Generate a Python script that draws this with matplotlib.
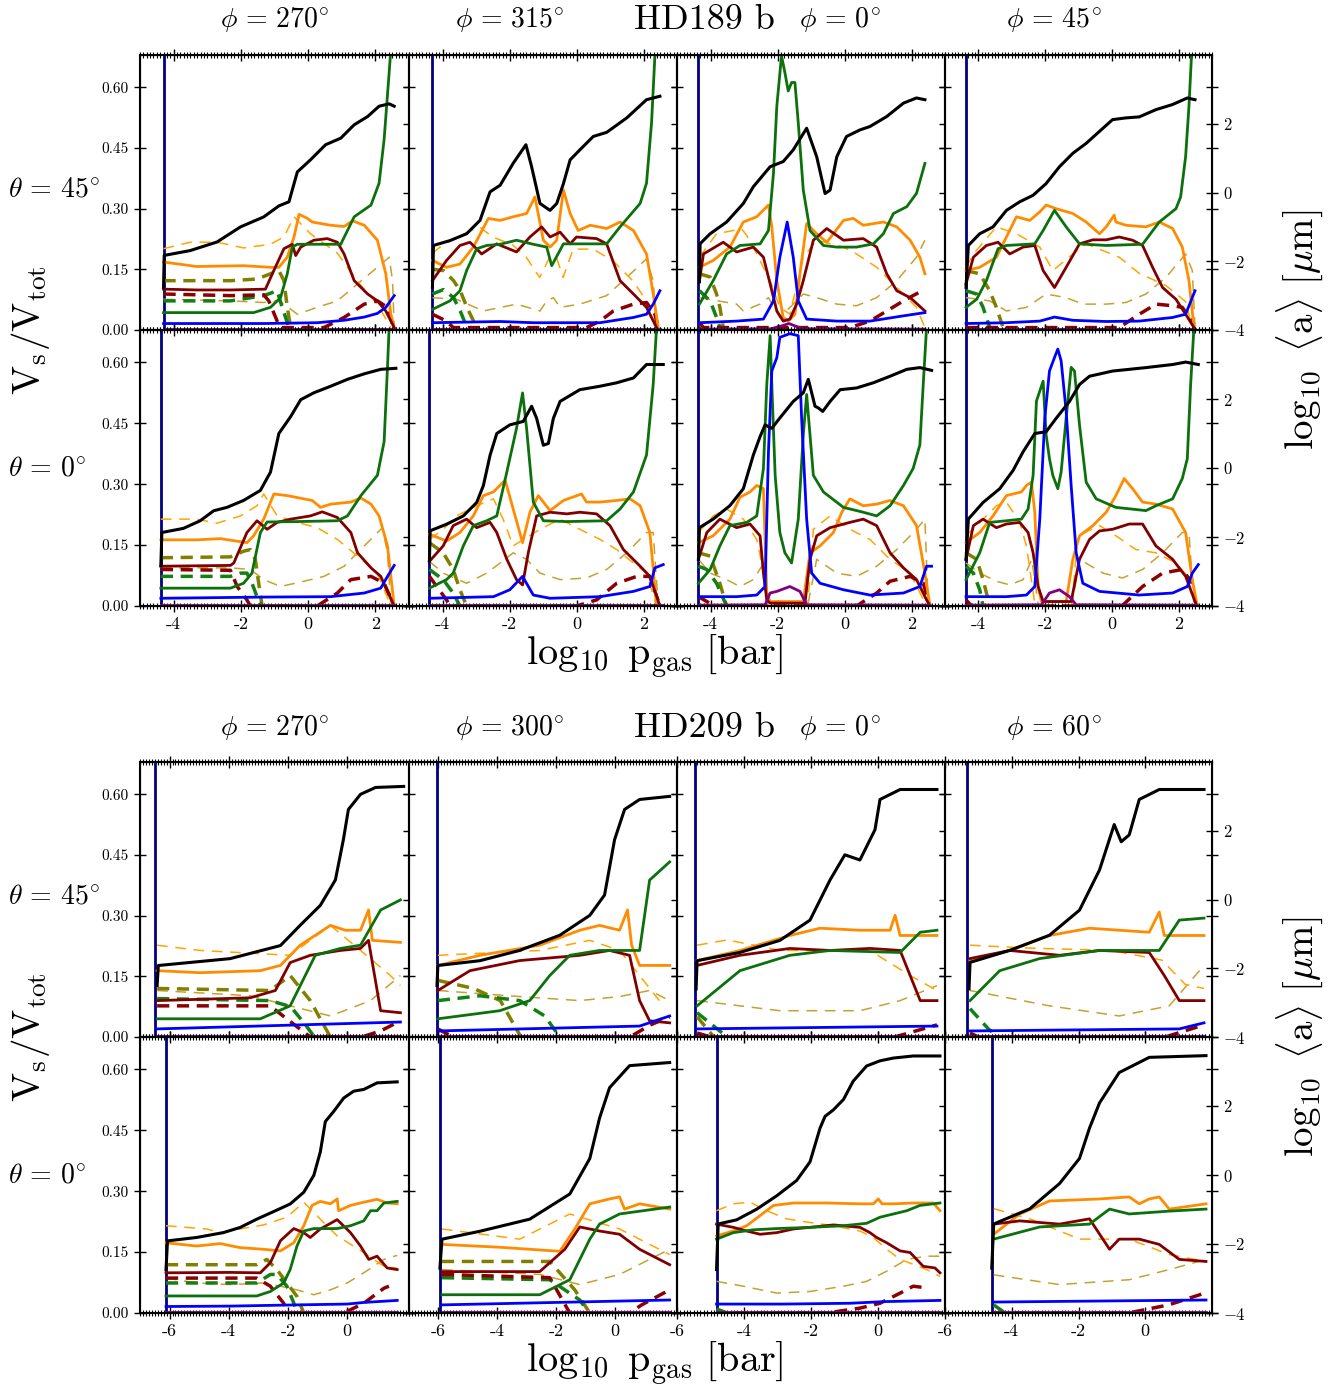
import matplotlib
matplotlib.use('Agg')
import matplotlib.pyplot as plt
from matplotlib.ticker import MultipleLocator

plt.rcParams['font.family'] = 'cmr10'
plt.rcParams['mathtext.fontset'] = 'cm'
plt.rcParams['axes.unicode_minus'] = False

# ---------------- HD189 b, theta = 45 ----------------
A1 = dict(navy=-4.30,
    black=[(-4.30,-2.76),(-4.28,-1.83),(-3.51,-1.69),(-2.71,-1.44),(-2.01,-1.00),(-1.32,-0.71),(-0.87,-0.39),(-0.57,-0.27),(-0.32,0.60),(0.07,0.95),(0.52,1.39),(0.97,1.58),(1.37,1.97),(1.77,2.21),(2.11,2.51),(2.41,2.58),(2.56,2.51)],
    orange=[(-4.30,0.168),(-3.31,0.157),(-1.92,0.159),(-1.12,0.155),(-0.87,0.155),(-0.62,0.180),(-0.42,0.230),(-0.27,0.286),(-0.02,0.276),(0.12,0.267),(0.67,0.259),(1.07,0.256),(1.32,0.270),(1.67,0.259),(2.06,0.222),(2.31,0.139),(2.46,0.039),(2.56,0.006)],
    darkred=[(-4.30,0.101),(-3.31,0.099),(-2.31,0.099),(-1.27,0.101),(-1.02,0.147),(-0.72,0.201),(-0.47,0.212),(-0.37,0.184),(-0.22,0.205),(0.17,0.222),(0.57,0.226),(0.87,0.217),(1.07,0.188),(1.37,0.122),(1.77,0.089),(2.06,0.072),(2.31,0.047),(2.56,0.006)],
    green=[(-4.30,0.043),(-2.81,0.043),(-1.62,0.043),(-1.12,0.056),(-0.82,0.080),(-0.62,0.139),(-0.47,0.205),(-0.32,0.212),(0.97,0.212),(1.37,0.280),(1.87,0.309),(2.11,0.363),(2.26,0.471),(2.41,0.637),(2.51,0.75)],
    odash=[(-4.30,0.201),(-3.51,0.217),(-2.71,0.217),(-1.92,0.203),(-1.12,0.212),(-0.72,0.230),(-0.42,0.280),(0.07,0.238),(0.87,0.19),(1.47,0.12),(2.06,0.064),(2.46,0.006)],
    tan=[(-4.30,0.076),(-2.31,0.072),(-1.32,0.068),(-0.92,0.072),(-0.72,0.064),(-0.32,0.039),(0.27,0.056),(0.87,0.072),(1.47,0.114),(2.06,0.155),(2.41,0.180),(2.51,0.122),(2.56,0.006)],
    olive=[(-4.30,0.122),(-2.31,0.122),(-1.52,0.126),(-1.12,0.139),(-0.87,0.147),(-0.72,0.122),(-0.62,0.056),(-0.52,0.006)],
    gdash=[(-4.30,0.072),(-2.31,0.072),(-1.32,0.085),(-0.92,0.097),(-0.77,0.056),(-0.57,0.006)],
    drdash=[(-4.30,0.089),(-2.31,0.085),(-1.32,0.087),(-1.17,0.072),(-0.92,0.022),(-0.82,0.006),(0.47,0.006),(1.07,0.031),(1.67,0.064),(2.06,0.072),(2.36,0.056),(2.51,0.014)],
    blue=[(-4.30,0.016),(-1.32,0.016),(0.27,0.018),(1.07,0.024),(1.67,0.032),(2.06,0.041),(2.31,0.056),(2.56,0.085)],
    purple=[(-4.30,0.003),(2.56,0.003)])

A2 = dict(navy=-4.30,
    black=[(-4.30,-2.76),(-4.27,-1.54),(-3.78,-1.40),(-3.28,-1.20),(-2.88,-0.81),(-2.58,0.02),(-2.28,0.21),(-1.89,0.85),(-1.51,1.39),(-1.34,0.75),(-1.09,-0.32),(-0.79,-0.52),(-0.59,-0.32),(-0.39,0.26),(-0.19,0.95),(0.10,1.24),(0.50,1.63),(0.90,1.75),(1.50,2.17),(2.09,2.70),(2.49,2.80)],
    orange=[(-4.30,0.172),(-3.88,0.155),(-3.48,0.163),(-3.08,0.205),(-2.63,0.276),(-2.28,0.271),(-1.89,0.280),(-1.49,0.288),(-1.24,0.329),(-0.99,0.222),(-0.79,0.205),(-0.59,0.222),(-0.39,0.346),(-0.19,0.288),(0.05,0.246),(0.41,0.259),(0.90,0.251),(1.30,0.267),(1.70,0.246),(2.09,0.188),(2.29,0.089),(2.44,0.006)],
    darkred=[(-4.30,0.122),(-3.88,0.172),(-3.48,0.209),(-3.18,0.217),(-2.83,0.188),(-2.38,0.213),(-1.79,0.193),(-1.39,0.230),(-1.04,0.255),(-0.79,0.230),(-0.49,0.242),(-0.19,0.213),(0.00,0.230),(0.60,0.226),(0.90,0.213),(1.30,0.122),(1.70,0.089),(2.09,0.056),(2.39,0.006)],
    green=[(-4.30,0.051),(-3.78,0.072),(-3.48,0.097),(-3.28,0.147),(-2.98,0.201),(-2.68,0.209),(-2.28,0.212),(-1.79,0.222),(-1.29,0.212),(-0.89,0.205),(-0.74,0.159),(-0.39,0.213),(0.10,0.213),(0.90,0.213),(1.30,0.255),(1.90,0.313),(2.09,0.363),(2.24,0.512),(2.34,0.678),(2.38,0.75)],
    odash=[(-4.30,0.19),(-4.0,0.21),(-3.3,0.24),(-2.9,0.255),(-2.5,0.23),(-1.9,0.21),(-1.5,0.18),(-1.1,0.13),(-0.8,0.18),(-0.6,0.18),(-0.4,0.13),(-0.1,0.2),(0.5,0.2),(1.1,0.17),(1.7,0.12),(2.1,0.07),(2.4,0.0)],
    tan=[(-4.30,0.080),(-3.58,0.076),(-2.78,0.047),(-1.79,0.064),(-1.09,0.047),(-0.89,0.072),(-0.69,0.080),(-0.49,0.056),(0.10,0.064),(0.90,0.085),(1.50,0.130),(2.09,0.176),(2.29,0.122),(2.39,0.006)],
    olive=[(-4.30,0.150),(-3.97,0.147),(-3.67,0.122),(-3.47,0.097),(-3.27,0.056),(-2.98,0.006)],
    gdash=[(-4.30,0.089),(-3.97,0.10),(-3.67,0.08),(-3.47,0.047),(-3.27,0.006)],
    drdash=[(-4.30,0.039),(-3.88,0.022),(-3.68,0.006),(0.30,0.006),(0.70,0.022),(1.10,0.047),(1.70,0.064),(2.09,0.068),(2.34,0.039),(2.44,0.006)],
    blue=[(-4.30,0.018),(-2.28,0.021),(-1.29,0.018),(0.70,0.018),(1.70,0.031),(2.09,0.039),(2.29,0.064),(2.49,0.097)],
    purple=[(-4.30,0.003),(2.49,0.003)])

A3 = dict(navy=-4.36,
    black=[(-4.33,-2.6),(-4.31,-1.49),(-4.01,-1.20),(-3.52,-0.86),(-3.02,-0.32),(-2.72,0.17),(-2.22,0.75),(-1.83,0.90),(-1.53,1.24),(-1.13,1.87),(-0.83,1.04),(-0.58,-0.03),(-0.43,0.07),(-0.23,1.04),(0.06,1.63),(0.46,1.82),(0.76,1.92),(1.26,2.21),(1.76,2.60),(2.15,2.75),(2.40,2.70)],
    orange=[(-4.33,0.155),(-3.92,0.172),(-3.42,0.205),(-3.02,0.267),(-2.62,0.280),(-2.27,0.309),(-2.17,0.255),(-2.02,0.122),(-1.83,0.031),(-1.68,0.022),(-1.48,0.039),(-1.33,0.139),(-1.13,0.263),(-0.83,0.238),(-0.53,0.217),(-0.33,0.238),(-0.03,0.271),(0.26,0.276),(0.56,0.259),(1.16,0.267),(1.56,0.255),(1.96,0.222),(2.25,0.180),(2.40,0.139)],
    darkred=[(-4.33,0.122),(-4.21,0.188),(-3.62,0.217),(-3.22,0.193),(-2.72,0.205),(-2.42,0.180),(-2.22,0.114),(-2.02,0.047),(-1.83,0.022),(-1.63,0.027),(-1.43,0.064),(-1.23,0.122),(-0.93,0.222),(-0.53,0.251),(-0.03,0.222),(0.56,0.226),(0.96,0.205),(1.26,0.139),(1.56,0.097),(1.96,0.080),(2.40,0.047)],
    green=[(-4.33,0.064),(-3.92,0.122),(-3.52,0.188),(-3.12,0.209),(-2.52,0.213),(-2.27,0.246),(-2.12,0.388),(-2.02,0.554),(-1.88,0.678),(-1.78,0.637),(-1.68,0.591),(-1.58,0.612),(-1.48,0.612),(-1.38,0.512),(-1.23,0.346),(-1.03,0.246),(-0.63,0.209),(-0.23,0.205),(0.36,0.205),(0.86,0.213),(1.16,0.238),(1.46,0.288),(1.86,0.305),(2.15,0.338),(2.40,0.412)],
    odash=[(-4.33,0.18),(-3.82,0.238),(-3.07,0.25),(-2.92,0.234),(-2.62,0.188),(-2.22,0.122),(-1.93,0.056),(-1.63,0.039),(-1.23,0.18),(-0.83,0.222),(-0.03,0.205),(0.36,0.188),(0.96,0.155),(1.56,0.105),(2.15,0.056),(2.40,0.006)],
    tan=[(-4.33,0.080),(-3.22,0.064),(-3.02,0.047),(-2.52,0.064),(-2.27,0.080),(-1.93,0.031),(-1.23,0.089),(-0.83,0.080),(-0.23,0.064),(0.36,0.060),(0.96,0.080),(1.56,0.122),(2.15,0.180),(2.40,0.222)],
    olive=[(-4.33,0.139),(-4.01,0.131),(-3.82,0.089),(-3.72,0.056),(-3.62,0.006)],
    gdash=[(-4.33,0.097),(-4.01,0.072),(-3.82,0.031),(-3.72,0.006)],
    drdash=[(-4.33,0.018),(-4.21,0.006),(0.16,0.006),(0.76,0.022),(1.26,0.047),(1.76,0.072),(2.40,0.101)],
    blue=[(-4.33,0.018),(-3.22,0.022),(-2.42,0.027),(-2.12,0.072),(-1.93,0.180),(-1.71,0.267),(-1.53,0.180),(-1.38,0.072),(-1.13,0.027),(-0.23,0.022),(0.76,0.022),(1.76,0.035),(2.40,0.043)],
    purple=[(-4.33,0.002),(-2.2,0.003),(-1.88,0.010),(-1.66,0.016),(-1.38,0.007),(-1.2,0.003),(2.40,0.002)])

A4 = dict(navy=-4.37,
    black=[(-4.37,-2.76),(-4.30,-1.54),(-3.96,-1.20),(-3.56,-1.00),(-3.16,-0.52),(-2.76,-0.27),(-2.36,-0.08),(-1.97,0.26),(-1.57,0.75),(-1.17,1.14),(-0.77,1.43),(-0.37,1.78),(0.02,2.12),(0.42,2.17),(0.82,2.20),(1.32,2.41),(1.82,2.56),(2.26,2.75),(2.49,2.70)],
    orange=[(-4.37,0.147),(-3.96,0.155),(-3.46,0.180),(-3.16,0.230),(-2.86,0.280),(-2.46,0.271),(-2.16,0.292),(-1.97,0.309),(-1.67,0.300),(-1.17,0.288),(-0.77,0.267),(-0.37,0.238),(-0.17,0.255),(0.07,0.284),(0.12,0.267),(0.42,0.259),(1.02,0.255),(1.42,0.267),(1.82,0.251),(2.11,0.205),(2.31,0.122),(2.46,0.006)],
    darkred=[(-4.37,0.114),(-4.15,0.180),(-3.76,0.209),(-3.41,0.217),(-3.06,0.188),(-2.66,0.205),(-2.31,0.209),(-2.06,0.147),(-1.72,0.105),(-1.37,0.155),(-0.97,0.213),(-0.57,0.223),(-0.17,0.223),(0.22,0.230),(0.62,0.222),(0.92,0.209),(1.22,0.155),(1.52,0.105),(1.92,0.076),(2.21,0.039),(2.46,0.006)],
    green=[(-4.37,0.056),(-4.05,0.076),(-3.76,0.122),(-3.41,0.201),(-3.16,0.209),(-2.31,0.213),(-2.06,0.246),(-1.72,0.296),(-1.37,0.255),(-0.97,0.213),(-0.17,0.209),(0.92,0.212),(1.42,0.267),(1.92,0.300),(2.06,0.329),(2.21,0.429),(2.31,0.554),(2.39,0.686),(2.42,0.75)],
    odash=[(-4.37,0.155),(-4.15,0.188),(-3.46,0.255),(-2.86,0.238),(-2.16,0.205),(-1.77,0.147),(-1.17,0.188),(-0.77,0.213),(0.22,0.180),(0.82,0.14),(1.62,0.11),(2.21,0.07),(2.41,0.006)],
    tan=[(-4.37,0.080),(-3.66,0.072),(-3.16,0.047),(-2.56,0.056),(-1.97,0.089),(-1.37,0.080),(-0.87,0.064),(-0.17,0.064),(0.42,0.068),(1.02,0.089),(1.62,0.130),(2.21,0.188),(2.41,0.147),(2.49,0.006)],
    olive=[(-4.37,0.147),(-3.96,0.139),(-3.66,0.097),(-3.46,0.056),(-3.26,0.006)],
    gdash=[(-4.37,0.097),(-4.05,0.089),(-3.86,0.056),(-3.66,0.006)],
    drdash=[(-4.37,0.006),(0.22,0.006),(0.82,0.039),(1.32,0.064),(1.82,0.060),(2.11,0.056),(2.46,0.014)],
    blue=[(-4.37,0.016),(-3.16,0.018),(-2.16,0.022),(-1.72,0.032),(-1.17,0.024),(-0.17,0.021),(0.82,0.022),(1.82,0.031),(2.21,0.039),(2.49,0.097)],
    purple=[(-4.37,0.003),(2.49,0.003)])

# ---------------- HD189 b, theta = 0 ----------------
B1 = dict(navy=-4.38,
    black=[(-4.38,-2.83),(-4.35,-1.87),(-3.71,-1.75),(-3.21,-1.53),(-2.81,-1.24),(-2.41,-1.14),(-1.92,-0.94),(-1.42,-0.65),(-1.12,-0.12),(-0.87,1.00),(-0.52,1.49),(-0.22,1.98),(0.17,2.18),(0.67,2.37),(1.17,2.57),(1.67,2.73),(2.16,2.86),(2.61,2.89)],
    orange=[(-4.38,0.163),(-3.31,0.163),(-2.61,0.166),(-1.82,0.156),(-1.62,0.173),(-1.32,0.214),(-1.02,0.276),(-0.62,0.272),(0.12,0.260),(0.37,0.243),(0.67,0.251),(1.27,0.256),(1.57,0.266),(1.87,0.251),(2.11,0.222),(2.36,0.148),(2.56,0.0)],
    darkred=[(-4.38,0.098),(-2.31,0.100),(-2.21,0.106),(-1.82,0.181),(-1.52,0.210),(-1.22,0.189),(-0.92,0.206),(-0.52,0.214),(0.07,0.222),(0.42,0.232),(0.87,0.218),(1.27,0.181),(1.47,0.131),(1.87,0.094),(2.16,0.073),(2.56,0.0)],
    green=[(-4.38,0.044),(-2.31,0.044),(-1.92,0.056),(-1.67,0.081),(-1.42,0.181),(-1.22,0.207),(-0.32,0.208),(0.87,0.210),(1.17,0.222),(1.57,0.272),(2.06,0.322),(2.26,0.405),(2.36,0.588),(2.41,0.687),(2.44,0.75)],
    odash=[(-4.38,0.214),(-3.31,0.214),(-2.71,0.204),(-2.01,0.222),(-1.52,0.247),(-1.32,0.276),(-0.92,0.222),(-0.32,0.206),(0.27,0.193),(0.87,0.164),(1.47,0.123),(2.06,0.081),(2.46,0.0)],
    tan=[(-4.38,0.094),(-2.31,0.094),(-1.72,0.090),(-1.32,0.065),(-0.82,0.048),(-0.12,0.061),(0.47,0.073),(1.07,0.098),(1.67,0.148),(2.21,0.193),(2.36,0.131),(2.46,0.0)],
    olive=[(-4.38,0.119),(-2.31,0.121),(-1.92,0.135),(-1.72,0.139),(-1.57,0.115),(-1.47,0.056),(-1.37,0.0)],
    gdash=[(-4.38,0.073),(-2.31,0.073),(-2.01,0.081),(-1.82,0.081),(-1.67,0.056),(-1.52,0.023),(-1.37,0.0)],
    drdash=[(-4.38,0.090),(-2.31,0.088),(-2.11,0.048),(-1.82,0.015),(-1.72,0.0),(0.27,0.0),(0.87,0.032),(1.27,0.065),(1.87,0.073),(2.26,0.056),(2.56,0.0)],
    blue=[(-4.38,0.019),(-1.32,0.022),(0.67,0.023),(1.67,0.032),(2.16,0.044),(2.36,0.073),(2.56,0.100)],
    purple=[(-4.38,0.002),(2.56,0.002)])

B2 = dict(navy=-4.39,
    black=[(-4.39,-2.70),(-4.37,-1.82),(-3.88,-1.63),(-3.38,-1.39),(-2.98,-1.00),(-2.78,-0.51),(-2.58,0.37),(-2.38,1.00),(-1.99,1.25),(-1.59,1.35),(-1.34,1.79),(-1.19,1.44),(-0.99,0.66),(-0.84,0.71),(-0.69,1.44),(-0.49,1.93),(0.10,2.27),(0.70,2.37),(1.20,2.47),(1.70,2.61),(2.09,3.00),(2.59,3.00)],
    orange=[(-4.39,0.177),(-3.88,0.160),(-3.48,0.181),(-3.08,0.222),(-2.78,0.272),(-2.48,0.281),(-2.13,0.310),(-1.89,0.239),(-1.61,0.156),(-1.39,0.231),(-1.14,0.272),(-0.79,0.235),(-0.39,0.260),(0.15,0.276),(0.30,0.256),(0.70,0.256),(1.20,0.260),(1.60,0.264),(1.90,0.247),(2.19,0.181),(2.39,0.0)],
    darkred=[(-4.39,0.110),(-3.98,0.148),(-3.68,0.198),(-3.28,0.214),(-2.98,0.193),(-2.58,0.206),(-2.38,0.181),(-2.08,0.115),(-1.79,0.065),(-1.61,0.052),(-1.44,0.131),(-1.19,0.222),(-0.79,0.231),(-0.29,0.227),(0.10,0.231),(0.60,0.227),(1.00,0.198),(1.40,0.139),(1.90,0.098),(2.19,0.073),(2.49,0.0)],
    green=[(-4.39,0.044),(-3.88,0.065),(-3.68,0.081),(-3.38,0.148),(-3.08,0.198),(-2.68,0.210),(-2.38,0.222),(-2.08,0.330),(-1.79,0.438),(-1.61,0.525),(-1.49,0.438),(-1.29,0.256),(-0.99,0.210),(-0.29,0.208),(0.90,0.210),(1.30,0.239),(1.70,0.281),(2.09,0.372),(2.29,0.546),(2.39,0.687),(2.42,0.75)],
    odash=[(-4.39,0.164),(-3.98,0.189),(-3.58,0.222),(-2.98,0.247),(-2.48,0.264),(-2.19,0.214),(-1.89,0.148),(-1.09,0.189),(-0.49,0.214),(0.10,0.189),(0.70,0.164),(1.20,0.139),(1.70,0.106),(2.09,0.081),(2.39,0.0)],
    tan=[(-4.39,0.11),(-3.98,0.081),(-3.28,0.056),(-2.68,0.081),(-2.28,0.106),(-1.89,0.131),(-1.49,0.115),(-1.09,0.081),(-0.49,0.065),(0.30,0.069),(0.90,0.090),(1.50,0.131),(2.09,0.181),(2.29,0.181),(2.44,0.0)],
    olive=[(-4.39,0.156),(-3.98,0.131),(-3.68,0.090),(-3.48,0.040),(-3.28,0.0)],
    gdash=[(-4.39,0.090),(-3.98,0.065),(-3.68,0.032),(-3.48,0.0)],
    drdash=[(-4.39,0.073),(-4.17,0.048),(-3.88,0.015),(-3.78,0.0),(0.0,0.0),(0.6,0.015),(1.2,0.056),(1.8,0.073),(2.19,0.073),(2.49,0.0)],
    blue=[(-4.39,0.019),(-2.48,0.023),(-1.99,0.040),(-1.61,0.073),(-1.29,0.027),(-0.79,0.019),(0.70,0.023),(1.70,0.036),(2.19,0.048),(2.34,0.094),(2.59,0.102)],
    purple=[(-4.39,0.002),(2.59,0.002)])

B3 = dict(navy=-4.36,
    black=[(-4.36,-2.65),(-4.33,-1.73),(-3.92,-1.48),(-3.42,-1.09),(-3.02,-0.60),(-2.72,0.38),(-2.52,0.91),(-2.37,1.25),(-2.17,1.15),(-1.93,1.45),(-1.53,1.93),(-1.23,2.18),(-1.08,2.57),(-0.88,1.79),(-0.78,1.74),(-0.65,1.64),(-0.43,1.93),(-0.13,2.27),(0.36,2.32),(0.86,2.47),(1.36,2.66),(1.86,2.86),(2.25,2.91),(2.60,2.83)],
    orange=[(-4.36,0.156),(-3.92,0.173),(-3.42,0.214),(-3.12,0.268),(-2.82,0.281),(-2.62,0.297),(-2.42,0.289),(-2.32,0.032),(-2.22,0.011),(-1.23,0.011),(-1.03,0.131),(-0.73,0.148),(-0.33,0.181),(-0.08,0.231),(0.16,0.264),(0.56,0.247),(0.96,0.251),(1.36,0.260),(1.76,0.247),(2.15,0.198),(2.40,0.081),(2.55,0.0)],
    darkred=[(-4.36,0.115),(-4.11,0.181),(-3.72,0.214),(-3.22,0.193),(-2.82,0.202),(-2.52,0.173),(-2.42,0.081),(-2.32,0.015),(-2.22,0.007),(-1.18,0.007),(-1.03,0.115),(-0.83,0.173),(-0.43,0.193),(0.16,0.206),(0.56,0.214),(0.96,0.198),(1.36,0.131),(1.76,0.094),(2.15,0.065),(2.45,0.015),(2.55,0.0)],
    green=[(-4.36,0.056),(-4.01,0.090),(-3.72,0.148),(-3.42,0.198),(-2.92,0.206),(-2.62,0.222),(-2.42,0.339),(-2.32,0.546),(-2.22,0.666),(-2.17,0.546),(-2.07,0.322),(-1.93,0.181),(-1.78,0.131),(-1.58,0.106),(-1.38,0.214),(-1.23,0.422),(-1.13,0.521),(-1.03,0.422),(-0.93,0.322),(-0.63,0.281),(-0.03,0.243),(0.56,0.231),(0.96,0.222),(1.36,0.247),(1.76,0.297),(2.05,0.339),(2.25,0.397),(2.35,0.546),(2.45,0.687),(2.48,0.75)],
    odash=[(-4.36,0.181),(-3.92,0.222),(-3.52,0.239),(-3.02,0.214),(-2.62,0.164),(-2.37,0.065),(-2.27,0.0),(-1.1,0.0),(-0.93,0.189),(-0.43,0.222),(0.16,0.189),(0.76,0.164),(1.36,0.115),(1.96,0.081),(2.45,0.0)],
    tan=[(-4.36,0.115),(-4.01,0.081),(-3.52,0.065),(-3.12,0.048),(-2.72,0.065),(-2.47,0.098),(-2.3,0.0),(-1.1,0.0),(-0.83,0.115),(-0.23,0.081),(0.36,0.073),(0.96,0.098),(1.56,0.139),(2.15,0.189),(2.40,0.214),(2.50,0.0)],
    olive=[(-4.36,0.131),(-4.01,0.123),(-3.72,0.056),(-3.52,0.0)],
    gdash=[(-4.36,0.098),(-4.11,0.090),(-3.82,0.056),(-3.52,0.0)],
    drdash=[(-4.36,0.023),(-4.11,0.011),(-3.9,0.0),(0.36,0.0),(0.96,0.032),(1.36,0.061),(1.96,0.073),(2.35,0.056),(2.55,0.0)],
    blue=[(-4.36,0.023),(-3.22,0.023),(-2.62,0.027),(-2.37,0.048),(-2.27,0.380),(-2.17,0.579),(-2.02,0.612),(-1.93,0.662),(-1.63,0.671),(-1.38,0.666),(-1.28,0.463),(-1.13,0.214),(-0.98,0.081),(-0.73,0.056),(-0.03,0.040),(0.76,0.027),(1.76,0.032),(2.25,0.048),(2.45,0.098),(2.60,0.098)],
    purple=[(-4.36,0.002),(-2.37,0.003),(-2.22,0.032),(-2.02,0.036),(-1.63,0.048),(-1.33,0.036),(-1.13,0.003),(2.55,0.002)])

B4 = dict(navy=-4.37,
    black=[(-4.37,-2.65),(-4.30,-1.48),(-3.86,-1.00),(-3.36,-0.60),(-2.96,-0.07),(-2.66,0.47),(-2.31,1.00),(-1.97,1.05),(-1.67,1.44),(-1.27,1.93),(-0.97,2.42),(-0.67,2.66),(0.02,2.81),(1.02,2.91),(1.82,3.00),(2.21,3.07),(2.59,3.00)],
    orange=[(-4.37,0.156),(-3.96,0.181),(-3.56,0.222),(-3.16,0.272),(-2.71,0.281),(-2.56,0.297),(-2.41,0.305),(-2.31,0.231),(-2.21,0.048),(-2.11,0.011),(-1.37,0.011),(-1.17,0.115),(-0.97,0.173),(-0.57,0.198),(-0.17,0.231),(0.12,0.272),(0.37,0.314),(0.62,0.289),(0.92,0.256),(1.32,0.251),(1.82,0.239),(2.21,0.181),(2.41,0.065),(2.56,0.0)],
    darkred=[(-4.37,0.115),(-4.15,0.198),(-3.86,0.214),(-3.46,0.193),(-3.16,0.202),(-2.76,0.206),(-2.51,0.181),(-2.36,0.131),(-2.21,0.048),(-2.06,0.011),(-1.22,0.011),(-0.97,0.115),(-0.67,0.164),(-0.37,0.185),(0.02,0.189),(0.52,0.202),(0.92,0.202),(1.32,0.148),(1.82,0.115),(2.21,0.073),(2.51,0.007)],
    green=[(-4.37,0.065),(-3.96,0.131),(-3.66,0.206),(-3.16,0.210),(-2.71,0.214),(-2.51,0.239),(-2.36,0.322),(-2.26,0.505),(-2.06,0.554),(-1.97,0.422),(-1.87,0.363),(-1.77,0.322),(-1.62,0.289),(-1.52,0.330),(-1.37,0.463),(-1.22,0.588),(-1.12,0.579),(-0.97,0.446),(-0.77,0.305),(-0.47,0.264),(0.12,0.243),(1.02,0.235),(1.32,0.247),(1.82,0.264),(2.11,0.314),(2.26,0.363),(2.36,0.546),(2.46,0.687),(2.49,0.75)],
    odash=[(-4.37,0.173),(-3.86,0.214),(-3.46,0.247),(-3.16,0.256),(-2.76,0.206),(-2.56,0.148),(-2.3,0.0),(-1.2,0.0),(-1.02,0.173),(-0.37,0.198),(0.12,0.173),(0.72,0.139),(1.32,0.131),(1.92,0.106),(2.41,0.06),(2.56,0.0)],
    tan=[(-4.37,0.106),(-3.96,0.081),(-3.46,0.061),(-3.06,0.052),(-2.66,0.065),(-2.4,0.115),(-2.2,0.0),(-1.2,0.0),(-0.97,0.115),(-0.27,0.081),(0.32,0.069),(0.92,0.090),(1.52,0.131),(2.11,0.181),(2.31,0.181),(2.46,0.0)],
    olive=[(-4.37,0.131),(-4.05,0.115),(-3.86,0.065),(-3.66,0.0)],
    gdash=[(-4.37,0.098),(-4.15,0.081),(-3.96,0.040),(-3.86,0.0)],
    drdash=[(-4.37,0.015),(-4.2,0.0),(0.3,0.0),(0.92,0.048),(1.52,0.081),(2.11,0.090),(2.41,0.056)],
    blue=[(-4.37,0.023),(-3.16,0.023),(-2.56,0.027),(-2.31,0.048),(-2.16,0.214),(-2.01,0.463),(-1.87,0.579),(-1.72,0.612),(-1.62,0.633),(-1.52,0.604),(-1.37,0.480),(-1.22,0.297),(-1.07,0.131),(-0.87,0.056),(-0.37,0.036),(0.82,0.027),(1.82,0.032),(2.26,0.048),(2.41,0.081),(2.59,0.102)],
    purple=[(-4.37,0.002),(-2.11,0.003),(-1.87,0.032),(-1.57,0.040),(-1.27,0.023),(-1.07,0.003),(2.56,0.002)])

# ---------------- HD209 b, theta = 45 ----------------
C1 = dict(navy=-6.5,
    black=[(-6.42,-2.5),(-6.38,-1.92),(-3.95,-1.72),(-2.25,-1.34),(-1.58,-0.75),(-0.90,-0.17),(-0.39,0.57),(-0.12,1.74),(0.05,2.62),(0.46,3.06),(0.97,3.26),(1.92,3.29)],
    orange=[(-6.42,0.164),(-4.97,0.159),(-2.93,0.164),(-2.25,0.177),(-1.58,0.227),(-0.56,0.276),(-0.05,0.264),(0.46,0.264),(0.73,0.314),(0.86,0.239),(1.81,0.234)],
    darkred=[(-6.42,0.09),(-3.27,0.097),(-2.42,0.115),(-1.92,0.184),(-1.24,0.202),(-0.22,0.214),(0.46,0.219),(0.73,0.239),(1.14,0.065),(1.81,0.060)],
    green=[(-6.42,0.045),(-2.93,0.045),(-1.92,0.077),(-1.58,0.127),(-1.07,0.202),(-0.22,0.219),(0.46,0.227),(1.14,0.314),(1.81,0.339)],
    odash=[(-6.42,0.227),(-4.97,0.214),(-1.92,0.202),(-0.56,0.276),(0.46,0.214),(1.47,0.152),(1.81,0.127)],
    tan=[(-6.42,0.115),(-3.27,0.102),(-1.92,0.077),(-0.56,0.052),(0.80,0.09),(1.81,0.152)],
    olive=[(-6.42,0.12),(-2.6,0.115),(-1.92,0.152),(-1.24,0.09),(-0.56,0.0)],
    gdash=[(-6.42,0.095),(-2.6,0.09),(-1.9,0.075),(-1.4,0.03),(-1.1,0.0)],
    drdash=[(-6.42,0.077),(-2.6,0.077),(-1.24,0.0),(0.5,0.0),(1.14,0.015),(1.81,0.04)],
    blue=[(-6.42,0.02),(1.81,0.037)],
    purple=[(-6.42,0.002),(1.81,0.002)])

C2 = dict(navy=-6.05,
    black=[(-6.05,-2.5),(-6.02,-1.92),(-4.59,-1.78),(-3.24,-1.48),(-1.88,-1.04),(-0.86,-0.46),(-0.36,0.13),(-0.02,1.74),(0.32,2.62),(0.83,2.91),(1.85,3.00)],
    orange=[(-6.02,0.177),(-4.59,0.202),(-2.56,0.227),(-1.20,0.264),(-0.53,0.276),(0.15,0.264),(0.42,0.314),(0.56,0.227),(0.83,0.177),(1.85,0.177)],
    darkred=[(-6.02,0.115),(-4.93,0.164),(-3.24,0.189),(-1.20,0.202),(-0.19,0.214),(0.49,0.202),(0.83,0.09),(1.17,0.04),(1.85,0.035)],
    green=[(-6.02,0.045),(-3.92,0.065),(-2.90,0.09),(-2.22,0.152),(-1.54,0.202),(-0.53,0.214),(0.83,0.214),(1.17,0.388),(1.85,0.433)],
    odash=[(-6.02,0.202),(-2.56,0.214),(-0.86,0.239),(0.15,0.214),(0.83,0.152),(1.5,0.09)],
    tan=[(-6.02,0.115),(-3.24,0.1),(-1.2,0.09),(0.15,0.1),(1.17,0.115),(1.85,0.09)],
    olive=[(-6.02,0.14),(-4.8,0.12),(-3.9,0.09),(-3.2,0.0)],
    gdash=[(-6.02,0.09),(-4.59,0.102),(-3.24,0.09),(-2.39,0.052),(-1.88,0.0)],
    drdash=[(-6.02,0.02),(-5.5,0.0),(0.5,0.0),(1.2,0.03),(1.85,0.05)],
    blue=[(-6.02,0.015),(0.83,0.027),(1.85,0.052)],
    purple=[(-6.02,0.002),(1.85,0.002)])

C3 = dict(navy=-5.46,
    black=[(-5.43,-2.6),(-5.40,-1.78),(-4.12,-1.54),(-2.93,-1.19),(-2.03,-0.60),(-1.43,0.57),(-0.99,1.30),(-0.54,1.15),(-0.09,2.03),(0.06,2.91),(0.66,3.20),(1.76,3.20)],
    orange=[(-5.40,0.189),(-4.12,0.214),(-2.63,0.251),(-1.73,0.269),(-0.54,0.264),(0.36,0.264),(0.51,0.301),(0.66,0.251),(1.76,0.251)],
    darkred=[(-5.40,0.177),(-4.12,0.202),(-2.63,0.219),(-1.43,0.214),(-0.24,0.219),(0.66,0.214),(1.26,0.09),(1.76,0.09)],
    green=[(-5.40,0.077),(-4.12,0.164),(-2.63,0.202),(-1.43,0.214),(0.66,0.209),(1.26,0.259),(1.76,0.264)],
    odash=[(-5.40,0.227),(-4.5,0.24),(-2.9,0.214),(-0.24,0.214),(0.96,0.152),(1.76,0.115)],
    tan=[(-5.40,0.09),(-2.93,0.065),(-0.54,0.065),(0.66,0.09),(1.76,0.127)],
    olive=[(-5.40,0.05),(-4.9,0.0)],
    gdash=[(-5.40,0.06),(-4.8,0.02),(-4.5,0.0)],
    drdash=[(-5.40,0.01),(-5.0,0.0),(0.5,0.0),(1.76,0.03)],
    blue=[(-5.40,0.02),(1.76,0.027)],
    purple=[(-5.40,0.002),(1.76,0.002)])

C4 = dict(navy=-5.34,
    black=[(-5.28,-2.6),(-5.25,-1.83),(-4.06,-1.48),(-2.87,-1.04),(-1.97,-0.31),(-1.37,0.86),(-0.93,2.18),(-0.72,1.68),(-0.48,1.88),(-0.18,2.91),(0.42,3.20),(1.76,3.20)],
    orange=[(-5.25,0.189),(-4.06,0.214),(-2.87,0.251),(-1.67,0.269),(0.12,0.259),(0.42,0.309),(0.57,0.251),(1.76,0.251)],
    darkred=[(-5.25,0.194),(-4.06,0.214),(-2.57,0.202),(-1.37,0.214),(0.12,0.209),(0.57,0.152),(1.02,0.09),(1.76,0.09)],
    green=[(-5.25,0.09),(-4.36,0.164),(-3.16,0.194),(-1.37,0.214),(0.42,0.214),(1.02,0.289),(1.76,0.294)],
    odash=[(-5.25,0.227),(-3.5,0.22),(-1.0,0.214),(0.5,0.19),(1.2,0.13),(1.76,0.12)],
    tan=[(-5.25,0.115),(-2.87,0.077),(-0.78,0.052),(0.72,0.077),(1.76,0.177)],
    gdash=[(-5.25,0.07),(-4.7,0.02),(-4.4,0.0)],
    drdash=[(-5.25,0.01),(-5.0,0.0),(0.6,0.0),(1.76,0.03)],
    blue=[(-5.25,0.015),(1.02,0.02),(1.76,0.035)],
    purple=[(-5.25,0.002),(1.76,0.002)])

# ---------------- HD209 b, theta = 0 ----------------
D1 = dict(navy=-6.12,
    black=[(-6.12,-2.74),(-6.07,-1.91),(-5.08,-1.81),(-4.18,-1.67),(-3.61,-1.52),(-3.05,-1.28),(-2.48,-1.06),(-1.92,-0.84),(-1.46,-0.50),(-1.12,-0.01),(-0.90,0.67),(-0.73,1.55),(-0.45,1.84),(-0.11,2.23),(0.23,2.43),(0.57,2.48),(1.02,2.67),(1.70,2.70)],
    orange=[(-6.12,0.173),(-5.08,0.165),(-4.29,0.171),(-3.61,0.161),(-2.82,0.157),(-2.25,0.153),(-1.80,0.173),(-1.46,0.215),(-1.18,0.265),(-0.90,0.275),(-0.56,0.269),(-0.33,0.281),(-0.28,0.252),(0.12,0.265),(0.57,0.273),(1.02,0.280),(1.36,0.271),(1.70,0.269)],
    darkred=[(-6.12,0.099),(-3.95,0.100),(-2.93,0.099),(-2.59,0.124),(-2.25,0.178),(-1.80,0.208),(-1.46,0.198),(-1.24,0.186),(-0.90,0.207),(-0.33,0.230),(0.12,0.198),(0.46,0.165),(0.74,0.132),(1.02,0.140),(1.36,0.111),(1.70,0.107)],
    green=[(-6.12,0.042),(-3.05,0.042),(-2.59,0.053),(-2.14,0.074),(-1.92,0.107),(-1.69,0.165),(-1.46,0.202),(-1.12,0.208),(-0.33,0.208),(0.12,0.215),(0.57,0.227),(0.80,0.252),(1.02,0.252),(1.25,0.271),(1.70,0.275)],
    odash=[(-6.12,0.215),(-4.74,0.207),(-4.29,0.198),(-3.61,0.207),(-2.82,0.217),(-2.03,0.236),(-1.46,0.273),(-0.79,0.223),(-0.33,0.190),(0.57,0.149),(1.25,0.115),(1.70,0.11)],
    tan=[(-6.12,0.086),(-5.08,0.074),(-3.95,0.070),(-2.82,0.074),(-2.25,0.066),(-1.69,0.057),(-1.12,0.045),(-0.56,0.057),(0.01,0.074),(0.57,0.099),(1.25,0.132),(1.70,0.142)],
    olive=[(-6.12,0.119),(-3.05,0.119),(-2.71,0.132),(-2.37,0.107),(-2.03,0.074),(-1.69,0.041),(-1.46,0.0)],
    gdash=[(-6.12,0.074),(-3.05,0.074),(-2.59,0.095),(-2.37,0.095),(-2.03,0.066),(-1.80,0.025),(-1.69,0.0)],
    drdash=[(-6.12,0.086),(-3.05,0.086),(-2.59,0.066),(-2.14,0.024),(-1.97,0.0),(-0.11,0.0),(0.57,0.024),(1.25,0.061),(1.42,0.066)],
    blue=[(-6.12,0.016),(-3.95,0.017),(-1.69,0.020),(0.01,0.022),(0.57,0.026),(1.70,0.031)],
    purple=[(-6.12,0.002),(1.70,0.002)])

D2 = dict(navy=-5.95,
    black=[(-5.95,-2.7),(-5.88,-1.86),(-4.59,-1.63),(-2.90,-1.28),(-1.54,-0.55),(-0.86,0.48),(-0.53,1.65),(-0.19,2.53),(0.49,3.17),(1.85,3.26)],
    orange=[(-5.88,0.169),(-3.92,0.162),(-1.88,0.152),(-1.37,0.207),(-0.86,0.269),(-0.19,0.281),(0.15,0.286),(0.32,0.256),(0.83,0.269),(1.85,0.256)],
    darkred=[(-5.88,0.102),(-2.56,0.102),(-1.71,0.157),(-1.20,0.212),(-0.53,0.202),(0.15,0.194),(0.83,0.157),(1.85,0.119)],
    green=[(-5.88,0.045),(-2.56,0.045),(-1.54,0.082),(-0.86,0.182),(-0.53,0.219),(0.15,0.244),(1.85,0.261)],
    odash=[(-5.88,0.207),(-3.24,0.182),(-1.54,0.244),(0.15,0.207),(1.85,0.144)],
    tan=[(-5.88,0.107),(-2.56,0.095),(-1.20,0.07),(0.15,0.095),(1.85,0.157)],
    olive=[(-5.88,0.127),(-2.22,0.127),(-1.37,0.057),(-0.86,0.0)],
    gdash=[(-5.88,0.087),(-2.22,0.082),(-1.2,0.032),(-0.9,0.0)],
    drdash=[(-5.88,0.095),(-2.22,0.087),(-1.54,0.0),(0.49,0.0),(0.9,0.02),(1.85,0.057)],
    blue=[(-5.88,0.02),(1.85,0.032)],
    purple=[(-5.88,0.002),(1.85,0.002)])

D3 = dict(navy=-4.82,
    black=[(-4.82,-2.74),(-4.77,-1.42),(-4.22,-1.30),(-3.62,-0.99),(-3.02,-0.60),(-2.43,-0.16),(-2.03,0.38),(-1.73,1.36),(-1.58,1.70),(-1.33,1.89),(-1.03,2.19),(-0.74,2.72),(-0.34,3.16),(0.06,3.31),(0.46,3.39),(1.05,3.45),(1.85,3.45)],
    orange=[(-4.82,0.190),(-4.32,0.202),(-3.92,0.215),(-3.52,0.240),(-3.12,0.265),(-2.53,0.271),(-1.53,0.271),(-0.54,0.269),(-0.14,0.269),(0.01,0.281),(0.12,0.269),(0.46,0.269),(1.05,0.271),(1.65,0.271),(1.85,0.252)],
    darkred=[(-4.82,0.219),(-4.32,0.211),(-3.92,0.202),(-3.52,0.194),(-3.02,0.198),(-2.53,0.207),(-2.03,0.211),(-1.33,0.217),(-0.54,0.211),(-0.24,0.198),(-0.04,0.186),(0.26,0.173),(0.66,0.153),(0.96,0.149),(1.35,0.115),(1.70,0.111),(1.85,0.099)],
    green=[(-4.82,0.182),(-4.32,0.198),(-3.72,0.205),(-3.02,0.208),(-2.03,0.211),(-1.03,0.215),(-0.34,0.221),(0.06,0.236),(0.46,0.244),(0.86,0.252),(1.25,0.265),(1.85,0.271)],
    odash=[(-4.82,0.252),(-4.32,0.269),(-3.82,0.273),(-3.32,0.252),(-2.73,0.232),(-2.03,0.223),(-1.33,0.215),(-0.54,0.202),(-0.14,0.186),(0.26,0.157),(0.66,0.132),(1.05,0.120),(1.45,0.107),(1.85,0.090)],
    tan=[(-4.82,0.078),(-4.02,0.066),(-3.02,0.049),(-2.03,0.053),(-1.03,0.066),(-0.34,0.078),(0.26,0.103),(0.86,0.132),(1.45,0.140),(1.85,0.140)],
    gdash=[(-4.82,0.01),(-4.5,0.0)],
    drdash=[(-4.82,0.0),(-1.53,0.0),(-0.54,0.012),(0.06,0.024),(0.66,0.049),(1.05,0.066),(1.45,0.062)],
    blue=[(-4.82,0.022),(-2.83,0.022),(-0.83,0.024),(0.16,0.028),(1.85,0.031)],
    purple=[(-4.82,0.002),(1.85,0.002)])

D4 = dict(navy=-4.60,
    black=[(-4.60,-2.7),(-4.54,-1.42),(-3.46,-0.98),(-2.57,-0.25),(-1.97,0.48),(-1.67,1.36),(-1.37,2.09),(-0.78,2.97),(0.12,3.41),(1.82,3.46)],
    orange=[(-4.54,0.194),(-3.76,0.244),(-2.87,0.276),(-1.37,0.281),(-0.48,0.286),(-0.18,0.269),(0.12,0.281),(0.42,0.286),(0.72,0.256),(1.82,0.269)],
    darkred=[(-4.54,0.219),(-3.76,0.227),(-2.57,0.219),(-1.67,0.232),(-1.07,0.157),(-0.78,0.182),(-0.18,0.182),(0.42,0.169),(1.02,0.132),(1.82,0.127)],
    green=[(-4.54,0.182),(-3.16,0.212),(-1.67,0.219),(-1.07,0.256),(-0.48,0.244),(0.72,0.251),(1.82,0.256)],
    odash=[(-4.54,0.257),(-3.46,0.232),(-1.97,0.182),(-0.48,0.182),(0.72,0.144),(1.82,0.127)],
    tan=[(-4.54,0.094),(-2.57,0.070),(-0.48,0.082),(0.72,0.107),(1.82,0.132)],
    gdash=[(-4.54,0.02),(-4.2,0.0)],
    drdash=[(-4.54,0.0),(-0.5,0.0),(0.7,0.02),(1.82,0.05)],
    blue=[(-4.54,0.027),(1.82,0.032)],
    purple=[(-4.54,0.002),(1.82,0.002)])

PHI_TOP = ['270', '315', '0', '45']
PHI_BOT = ['270', '300', '0', '60']

STYLE = {
    'tan': dict(color='#c8a030', lw=1.1, ls=(0, (7, 5))),
    'odash': dict(color='orange', lw=1.1, ls=(0, (7, 5))),
    'olive': dict(color='olive', lw=2.5, ls=(0, (3.5, 2.2))),
    'gdash': dict(color='#128012', lw=2.5, ls=(0, (3.5, 2.2))),
    'drdash': dict(color='#8b0000', lw=2.5, ls=(0, (3.5, 2.2))),
    'orange': dict(color='#ff8c00', lw=2.0),
    'darkred': dict(color='#800000', lw=2.0),
    'green': dict(color='#0c700c', lw=2.0),
    'blue': dict(color='blue', lw=2.0),
    'purple': dict(color='purple', lw=2.0),
}
ORDER = ['tan', 'odash', 'olive', 'gdash', 'drdash', 'orange', 'darkred', 'green', 'blue', 'purple']

W, H = 1338, 1388
fig = plt.figure(figsize=(W / 100, H / 100), dpi=100)

col_edges = [140, 409, 677, 945, 1212]
groups = [
    dict(rows=[(55, 330), (330, 606)], panels=[[A1, A2, A3, A4], [B1, B2, B3, B4]],
         xlims=[(-5, 3)] * 4, xt=[-4, -2, 0, 2], name='HD189 b', phi=PHI_TOP, ty=20),
    dict(rows=[(762, 1037), (1037, 1313)], panels=[[C1, C2, C3, C4], [D1, D2, D3, D4]],
         xlims=[(-7, 2.1), (-7, 2.1), (-6, 2), (-6, 2)], xt=[-6, -4, -2, 0], name='HD209 b', phi=PHI_BOT, ty=728),
]


def draw(ax, panel):
    ax.plot([panel['navy'], panel['navy']], [0, 1], color='#000080', lw=2.0)
    for key in ORDER:
        if key in panel:
            xs, ys = zip(*panel[key])
            ax.plot(xs, ys, **STYLE[key])
    tw = ax.twinx()
    xs, ys = zip(*panel['black'])
    tw.plot(xs, ys, color='black', lw=2.2)
    return tw


for g in groups:
    for r, (top, bot) in enumerate(g['rows']):
        for c in range(4):
            l, rr = col_edges[c], col_edges[c + 1]
            ax = fig.add_axes([l / W, 1 - bot / H, (rr - l) / W, (bot - top) / H])
            tw = draw(ax, g['panels'][r][c])
            ax.set_xlim(*g['xlims'][c])
            ax.set_ylim(0, 0.68)
            tw.set_ylim(-4, 4)
            ax.set_yticks([0, 0.15, 0.30, 0.45, 0.60])
            ax.set_xticks(g['xt'])
            ax.xaxis.set_minor_locator(MultipleLocator(0.1))
            tw.set_yticks([-4, -2, 0, 2])
            ax.tick_params(which='major', direction='inout', length=9, width=1, top=True,
                           right=True, labelright=False, labelsize=11)
            ax.tick_params(which='minor', axis='x', direction='inout', length=5, width=0.8, top=True)
            tw.tick_params(direction='inout', length=9, width=1, labelsize=12)
            if c == 0:
                ax.set_yticklabels(['0.00', '0.15', '0.30', '0.45', '0.60'])
            else:
                ax.tick_params(labelleft=False)
            if c == 3:
                tw.set_yticklabels(['$-4$', '$-2$', '$0$', '$2$'])
            else:
                tw.tick_params(labelright=False)
            if r == 1:
                ax.set_xticklabels([str(v) for v in g['xt']], fontsize=13)
            else:
                ax.tick_params(labelbottom=False)
            for s in ax.spines.values():
                s.set_linewidth(1.5)
    ty = 1 - g['ty'] / H
    for xc, ph in zip([275, 510, 840, 1054], g['phi']):
        fig.text(xc / W, ty, r'$\phi\,=\,%s^{\circ}$' % ph, ha='center', va='center', fontsize=20)
    fig.text(704 / W, ty, g['name'], ha='center', va='center', fontsize=26)
    (t1, b1), (t2, b2) = g['rows']
    fig.text(8 / W, 1 - (t1 + b1) / 2 / H + 0.002, r'$\theta\,=\,45^{\circ}$', ha='left', va='center', fontsize=20)
    fig.text(8 / W, 1 - (t2 + b2) / 2 / H, r'$\theta\,=\,0^{\circ}$', ha='left', va='center', fontsize=20)
    fig.text(30 / W, 1 - b1 / H, r'$\mathrm{V_s/V_{tot}}$', rotation=90, ha='center', va='center', fontsize=28)
    fig.text(1300 / W, 1 - b1 / H, r'$\log_{10}\ \langle \mathrm{a}\rangle\ [\mu \mathrm{m}]$', rotation=90,
             ha='center', va='center', fontsize=28)
    fig.text(655 / W, 1 - (b2 + 50) / H, r'$\log_{10}\ \mathrm{p_{gas}}\ [\mathrm{bar}]$', ha='center',
             va='center', fontsize=29)

fig.savefig('out.png', dpi=100)
